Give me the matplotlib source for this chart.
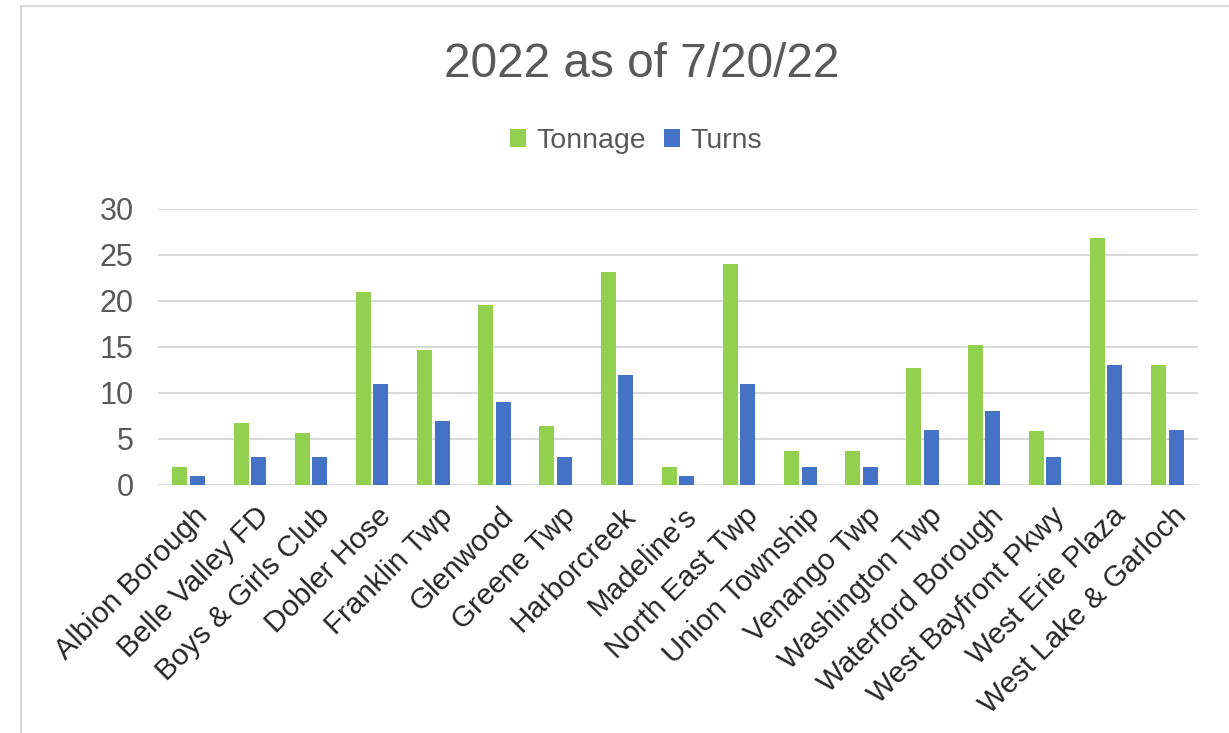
import numpy as np
import matplotlib
matplotlib.use("Agg")
import matplotlib.pyplot as plt
from matplotlib.lines import Line2D
from matplotlib.transforms import ScaledTranslation

plt.rcParams['font.family'] = ['Liberation Sans', 'DejaVu Sans']

sites = ["Albion Borough", "Belle Valley FD", "Boys & Girls Club", "Dobler Hose",
         "Franklin Twp", "Glenwood", "Greene Twp", "Harborcreek", "Madeline's",
         "North East Twp", "Union Township", "Venango Twp", "Washington Twp",
         "Waterford Borough", "West Bayfront Pkwy", "West Erie Plaza",
         "West Lake & Garloch"]
tonnage = [2.0, 6.7, 5.6, 21.0, 14.7, 19.6, 6.4, 23.2, 2.0,
           24.0, 3.7, 3.7, 12.7, 15.2, 5.9, 26.8, 13.0]
turns = [1, 3, 3, 11, 7, 9, 3, 12, 1, 11, 2, 2, 6, 8, 3, 13, 6]

green = "#92D050"
blue = "#4472C4"
grey_txt = "#595959"

W, H = 1229, 733
fig = plt.figure(figsize=(W / 100, H / 100), dpi=100)
ax = fig.add_axes([158 / W, 1 - 485 / H, (1198 - 158) / W, (485 - 209) / H])

x = np.arange(len(sites))
bw = 0.245
gap = 0.02
ax.bar(x - bw / 2 - gap, tonnage, bw, color=green, label="Tonnage", zorder=3)
ax.bar(x + bw / 2 + gap, turns, bw, color=blue, label="Turns", zorder=3)

ax.set_xlim(-0.5, len(sites) - 0.5)
ax.set_ylim(0, 30)
ax.set_yticks([0, 5, 10, 15, 20, 25, 30])
ax.yaxis.grid(True, color="#D9D9D9", lw=1.5, zorder=0)
ax.set_axisbelow(True)
for s in ax.spines.values():
    s.set_visible(False)
ax.tick_params(axis="y", length=0, pad=17.5, labelsize=22, labelcolor=grey_txt)
ax.tick_params(axis="x", length=0, pad=12)
ax.set_xticks(x)
ax.set_xticklabels(sites, rotation=45, ha="right", va="top",
                   rotation_mode="anchor", fontsize=21.3, color="#262626")
shift = ScaledTranslation(0.05, 0, fig.dpi_scale_trans)
for lab in ax.get_xticklabels():
    lab.set_transform(lab.get_transform() + shift)

fig.text(642 / W, 1 - 77 / H, "2022 as of 7/20/22", ha="center", va="baseline",
         fontsize=34.4, color=grey_txt)
ax.legend(loc="center", bbox_to_anchor=(636 / W, 1 - 141 / H), bbox_transform=fig.transFigure,
          ncol=2, frameon=False, fontsize=20.5, labelcolor=grey_txt,
          handlelength=0.56, handleheight=0.56, handletextpad=0.35, columnspacing=0.63,
          borderaxespad=0, borderpad=0)

# chart frame (left and top edges visible)
fig.add_artist(Line2D([21 / W, 21 / W], [0, 1 - 6 / H], transform=fig.transFigure,
                      color="#D9D9D9", lw=1.5))
fig.add_artist(Line2D([21 / W, 1], [1 - 6 / H, 1 - 6 / H], transform=fig.transFigure,
                      color="#D9D9D9", lw=1.5))

fig.savefig("out.png", dpi=100)
